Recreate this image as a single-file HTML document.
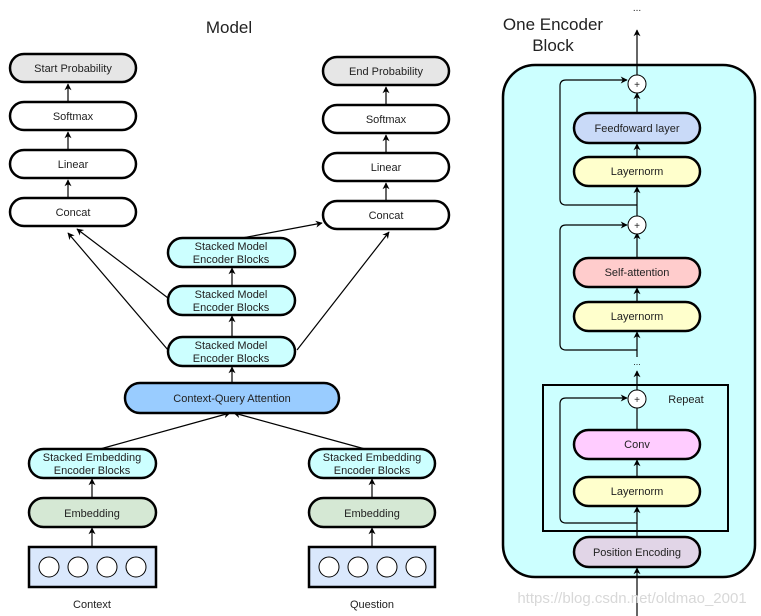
<!DOCTYPE html>
<html><head><meta charset="utf-8"><style>
html,body{margin:0;padding:0;background:#fff;}
svg{display:block;font-family:"Liberation Sans",sans-serif;}
</style></head><body>
<svg width="761" height="616" viewBox="0 0 761 616" xmlns="http://www.w3.org/2000/svg">
<defs>
<marker id="a" viewBox="0 0 10 10" refX="9" refY="5" markerWidth="7" markerHeight="7" orient="auto-start-reverse" markerUnits="userSpaceOnUse">
<path d="M0,0 L10,5 L0,10 L3,5 z" fill="#000"/></marker>
</defs>
<g font-size="11" text-anchor="middle" fill="#222">
<text x="229" y="33" font-size="17">Model</text>
<text x="553" y="30" font-size="17">One Encoder</text>
<text x="553" y="51" font-size="17">Block</text>
<text x="637" y="11" font-size="10">...</text>
</g>

<!-- Right big box -->
<rect x="503" y="65" width="252" height="512" rx="32" fill="#ccffff" stroke="#000" stroke-width="2.5"/>
<rect x="543" y="385" width="185" height="146" fill="none" stroke="#000" stroke-width="2"/>

<g stroke="#000" stroke-width="1.2" fill="none">
<!-- left column -->
<line x1="68" y1="102" x2="68" y2="84" marker-end="url(#a)"/>
<line x1="68" y1="150" x2="68" y2="132" marker-end="url(#a)"/>
<line x1="68" y1="198" x2="68" y2="180" marker-end="url(#a)"/>
<line x1="386" y1="105" x2="386" y2="87" marker-end="url(#a)"/>
<line x1="386" y1="153" x2="386" y2="135" marker-end="url(#a)"/>
<line x1="386" y1="201" x2="386" y2="183" marker-end="url(#a)"/>
<line x1="168" y1="298" x2="77" y2="229" marker-end="url(#a)"/>
<line x1="168" y1="350" x2="68" y2="233" marker-end="url(#a)"/>
<line x1="242" y1="238" x2="322" y2="223" marker-end="url(#a)"/>
<line x1="297" y1="350" x2="389" y2="232" marker-end="url(#a)"/>
<line x1="232" y1="286" x2="232" y2="268" marker-end="url(#a)"/>
<line x1="232" y1="337" x2="232" y2="316" marker-end="url(#a)"/>
<line x1="232" y1="383" x2="232" y2="367" marker-end="url(#a)"/>
<line x1="100" y1="449" x2="230" y2="413" marker-end="url(#a)"/>
<line x1="365" y1="449" x2="234" y2="413" marker-end="url(#a)"/>
<line x1="92" y1="498" x2="92" y2="479" marker-end="url(#a)"/>
<line x1="372" y1="498" x2="372" y2="479" marker-end="url(#a)"/>
<line x1="92" y1="547" x2="92" y2="528" marker-end="url(#a)"/>
<line x1="372" y1="547" x2="372" y2="528" marker-end="url(#a)"/>
<!-- right block -->
<line x1="637" y1="616" x2="637" y2="568" marker-end="url(#a)"/>
<line x1="637" y1="537" x2="637" y2="507" marker-end="url(#a)"/>
<line x1="637" y1="477" x2="637" y2="460" marker-end="url(#a)"/>
<line x1="637" y1="430" x2="637" y2="408"/>
<path d="M637,523 H566 Q560,523 560,517 V404 Q560,398 566,398 H627" marker-end="url(#a)"/>
<line x1="637" y1="390" x2="637" y2="371" marker-end="url(#a)"/>
<line x1="637" y1="357" x2="637" y2="332" marker-end="url(#a)"/>
<line x1="637" y1="302" x2="637" y2="288" marker-end="url(#a)"/>
<line x1="637" y1="258" x2="637" y2="233" marker-end="url(#a)"/>
<path d="M637,350 H566 Q560,350 560,344 V231 Q560,225 566,225 H627" marker-end="url(#a)"/>
<line x1="637" y1="233" x2="637" y2="187" marker-end="url(#a)"/>
<line x1="637" y1="157" x2="637" y2="144" marker-end="url(#a)"/>
<line x1="637" y1="113" x2="637" y2="93" marker-end="url(#a)"/>
<path d="M637,205 H566 Q560,205 560,199 V86 Q560,80 566,80 H627" marker-end="url(#a)"/>
<line x1="637" y1="75" x2="637" y2="30" marker-end="url(#a)"/>
</g>

<g stroke="#000" stroke-width="2.5" font-size="11" text-anchor="middle">
<rect x="10" y="54" width="126" height="28" rx="14" fill="#e6e6e6"/>
<rect x="10" y="102" width="126" height="28" rx="14" fill="#fff"/>
<rect x="10" y="150" width="126" height="28" rx="14" fill="#fff"/>
<rect x="10" y="198" width="126" height="28" rx="14" fill="#fff"/>
<rect x="323" y="57" width="126" height="28" rx="14" fill="#e6e6e6"/>
<rect x="323" y="105" width="126" height="28" rx="14" fill="#fff"/>
<rect x="323" y="153" width="126" height="28" rx="14" fill="#fff"/>
<rect x="323" y="201" width="126" height="28" rx="14" fill="#fff"/>
<rect x="168" y="238" width="127" height="29" rx="14.5" fill="#ccffff"/>
<rect x="168" y="286" width="127" height="29" rx="14.5" fill="#ccffff"/>
<rect x="168" y="337" width="127" height="29" rx="14.5" fill="#ccffff"/>
<rect x="125" y="383" width="214" height="30" rx="15" fill="#99ccff"/>
<rect x="29" y="449" width="127" height="29" rx="14.5" fill="#ccffff"/>
<rect x="309" y="449" width="126" height="29" rx="14.5" fill="#ccffff"/>
<rect x="29" y="498" width="127" height="29" rx="14.5" fill="#d5e8d4"/>
<rect x="309" y="498" width="126" height="29" rx="14.5" fill="#d5e8d4"/>
<rect x="29" y="547" width="127" height="40" fill="#dae8fc"/>
<rect x="309" y="547" width="126" height="40" fill="#dae8fc"/>
<rect x="574" y="113" width="126" height="30" rx="15" fill="#c9daf8"/>
<rect x="574" y="157" width="126" height="29" rx="14.5" fill="#ffffcc"/>
<rect x="574" y="258" width="126" height="29" rx="14.5" fill="#ffcccc"/>
<rect x="574" y="302" width="126" height="29" rx="14.5" fill="#ffffcc"/>
<rect x="574" y="430" width="126" height="29" rx="14.5" fill="#ffccff"/>
<rect x="574" y="477" width="126" height="29" rx="14.5" fill="#ffffcc"/>
<rect x="574" y="537" width="126" height="30" rx="15" fill="#e1d5e7"/>
</g>
<g stroke="#000" stroke-width="1" fill="#fff">
<circle cx="49" cy="567" r="10"/><circle cx="78" cy="567" r="10"/><circle cx="107" cy="567" r="10"/><circle cx="136" cy="567" r="10"/>
<circle cx="329" cy="567" r="10"/><circle cx="358" cy="567" r="10"/><circle cx="387" cy="567" r="10"/><circle cx="416" cy="567" r="10"/>
<circle cx="637" cy="84" r="9"/><circle cx="637" cy="225" r="9"/><circle cx="637" cy="399" r="9"/>
</g>
<g font-size="11" text-anchor="middle" fill="#222">
<text x="73" y="72">Start Probability</text>
<text x="73" y="120">Softmax</text>
<text x="73" y="168">Linear</text>
<text x="73" y="216">Concat</text>
<text x="386" y="75">End Probability</text>
<text x="386" y="123">Softmax</text>
<text x="386" y="171">Linear</text>
<text x="386" y="219">Concat</text>
<text x="231" y="250">Stacked Model</text><text x="231" y="263">Encoder Blocks</text>
<text x="231" y="298">Stacked Model</text><text x="231" y="311">Encoder Blocks</text>
<text x="231" y="349">Stacked Model</text><text x="231" y="362">Encoder Blocks</text>
<text x="232" y="402">Context-Query Attention</text>
<text x="92" y="461">Stacked Embedding</text><text x="92" y="474">Encoder Blocks</text>
<text x="372" y="461">Stacked Embedding</text><text x="372" y="474">Encoder Blocks</text>
<text x="92" y="517">Embedding</text>
<text x="372" y="517">Embedding</text>
<text x="92" y="608">Context</text>
<text x="372" y="608">Question</text>
<text x="637" y="132">Feedfoward layer</text>
<text x="637" y="175">Layernorm</text>
<text x="637" y="276">Self-attention</text>
<text x="637" y="320">Layernorm</text>
<text x="637" y="448">Conv</text>
<text x="637" y="495">Layernorm</text>
<text x="637" y="556">Position Encoding</text>
<text x="686" y="403">Repeat</text>
<text x="637" y="365" font-size="9">...</text>
<text x="637" y="88" font-size="10">+</text>
<text x="637" y="229" font-size="10">+</text>
<text x="637" y="403" font-size="10">+</text>
</g>
<text x="632" y="603" font-size="15" text-anchor="middle" fill="#d8d8d8">https://blog.csdn.net/oldmao_2001</text>
</svg>
</body></html>
